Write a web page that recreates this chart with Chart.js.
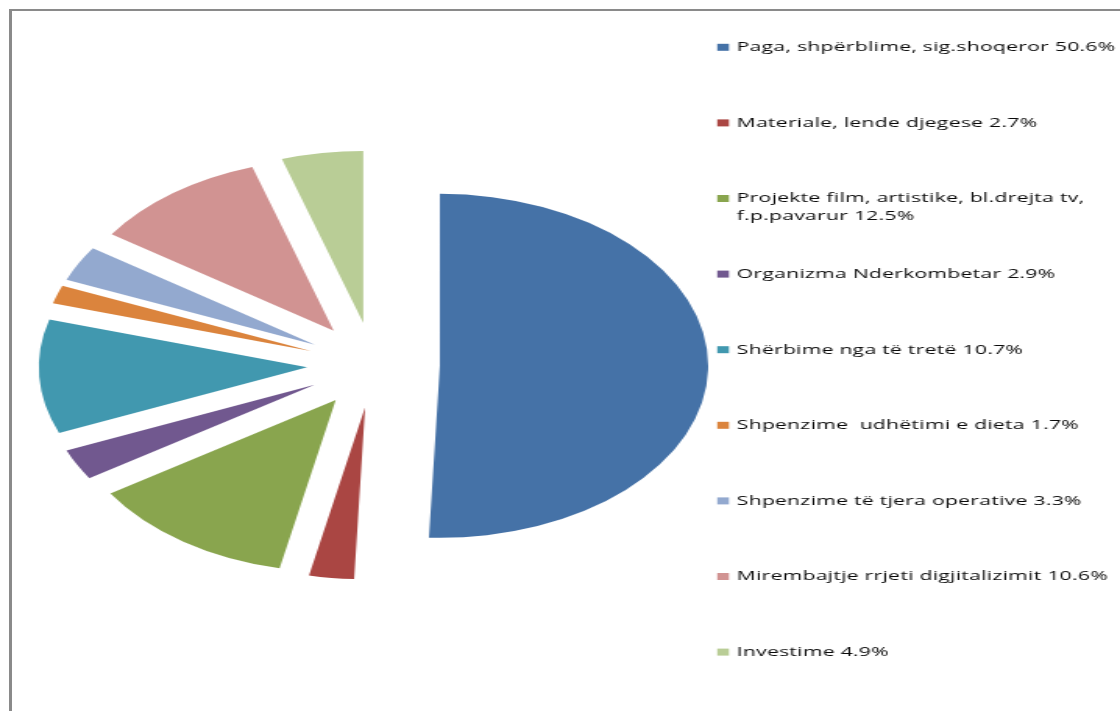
<!DOCTYPE html>
<html>
<head>
<meta charset="utf-8">
<script src="https://cdn.jsdelivr.net/npm/chart.js@4.4.0/dist/chart.umd.min.js"></script>
<style>
  html, body { margin: 0; padding: 0; background: #fff; }
  #wrap { position: relative; width: 1120px; height: 711px; overflow: hidden; }
  #frame { position: absolute; left: 9px; top: 9px; width: 1120px; height: 711px;
           border-top: 2px solid #8a8a8a; border-left: 3px solid #8a8a8a; pointer-events: none; }
  /* the original picture is stretched sideways, so the canvas is too */
  #myChart { position: absolute; left: 0; top: 0; width: 1120px; height: 711px; }
</style>
</head>
<body>
<div id="wrap">
  <canvas id="myChart" width="718" height="711" style="width:1120px;height:711px"></canvas>
  <div id="frame"></div>
</div>
<script>
const labels = [
  'Paga, shpërblime, sig.shoqeror',
  'Materiale, lende djegese',
  ['Projekte film, artistike, bl.drejta tv,', 'f.p.pavarur'],
  'Organizma Nderkombetar',
  'Shërbime nga të tretë',
  'Shpenzime  udhëtimi e dieta',
  'Shpenzime të tjera operative',
  'Mirembajtje rrjeti digjitalizimit',
  'Investime'
]
const values = [50.6, 2.7, 12.5, 2.9, 10.7, 1.7, 3.3, 10.6, 4.9]
const colors = ['#4572A7', '#AA4643', '#89A54E', '#71588F', '#4198AF', '#DB843D', '#93A9CF', '#D19392', '#B9CD96']

// pull every slice out from the centre by the same distance
const explode = {
  id: 'explode',
  afterDatasetUpdate(chart, args) {
    const d = chart.options.plugins.explode.distance
    args.meta.data.forEach(arc => {
      const mid = (arc.startAngle + arc.endAngle) / 2
      arc.x += Math.cos(mid) * d
      arc.y += Math.sin(mid) * d
    })
  }
}

// legend on the right, one item every 75.6px, box level with the first line
const sideLegend = {
  id: 'sideLegend',
  afterDraw(chart) {
    const o = chart.options.plugins.sideLegend
    const ctx = chart.ctx
    ctx.save()
    ctx.font = o.font
    ctx.letterSpacing = o.letterSpacing
    ctx.textBaseline = 'middle'
    labels.forEach((lab, i) => {
      const y = o.top + i * o.step
      ctx.fillStyle = colors[i]
      ctx.fillRect(o.boxX, y - 3.5, 7.5, 7)
      const lines = [].concat(lab)
      lines[lines.length - 1] += ' ' + values[i].toFixed(1) + '%'
      ctx.fillStyle = '#0a0a0a'
      lines.forEach((t, j) => ctx.fillText(t, o.textX, y + j * o.lineHeight))
    })
    ctx.restore()
  }
}

let pieChart = document.getElementById('myChart')

new Chart(pieChart, {
  type: 'pie',
  data: {
    labels: labels,
    datasets: [{
      data: values,
      backgroundColor: colors,
      borderWidth: 0
    }]
  },
  options: {
    responsive: false,
    animation: false,
    radius: 172,
    layout: { padding: { left: 0, right: 239.2, top: 19, bottom: 0 } },
    plugins: {
      legend: { display: false },
      tooltip: { enabled: false },
      explode: { distance: 42.6 },
      sideLegend: { font: '13.5px "Open Sans"', letterSpacing: '0.2px', top: 47.3, step: 75.6, boxX: 459.8, textX: 472.3, lineHeight: 17.5 }
    }
  },
  plugins: [explode, sideLegend]
})
</script>
</body>
</html>
